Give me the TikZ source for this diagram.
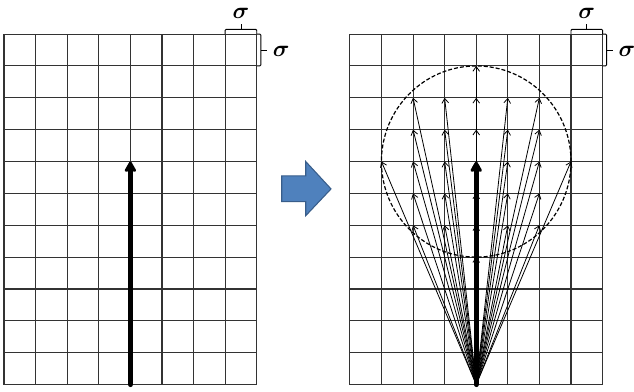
\documentclass[tikz,border=0pt]{standalone}
\usepackage{amsmath}
\usepackage{bm}
\usetikzlibrary{arrows, arrows.meta, positioning, calc, decorations.pathreplacing}
\definecolor{arrowblue}{RGB}{79,129,189}
\definecolor{arrowedge}{RGB}{56,93,138}

\begin{document}
\begin{tikzpicture}[
    x=23.7pt, y=23.9pt,
    gridline/.style={draw=black!80, line width=0.8pt},
    bracket/.style={draw, line width=0.7pt, rounded corners=0.8pt},
    sigmalabel/.style={font=\fontsize{16}{19}\selectfont, inner sep=0pt},
    bigarrow/.style={draw, line width=3.8pt, line cap=round, -{Stealth[length=9pt,width=10pt,inset=1pt,round]}},
    fanarrow/.style={draw, line width=0.6pt, -{Straight Barb[length=3.5pt,width=5pt]}},
    circleline/.style={draw, line width=0.9pt, dash pattern=on 3pt off 1.5pt}
]
\useasboundingbox (-0.127,-0.22) rectangle (19.94,12.07);

% the two grids with their sigma brackets
\foreach \g/\dx in {L/0, R/10.946}{
  \begin{scope}[xshift=\dx*23.7pt]
    \draw[gridline, step=1] (0,0) grid (8,11);
    \draw[bracket] (7,11) -- (7,11.15) -- (8,11.15) -- (8,11);
    \draw[bracket] (7.5,11.15) -- (7.5,11.32);
    \node[sigmalabel] (\g-sx) at (7.5,11.66) {$\boldsymbol{\sigma}$};
    \draw[bracket] (8,11) -- (8.13,11) -- (8.13,10) -- (8,10);
    \draw[bracket] (8.13,10.5) -- (8.33,10.5);
    \node[sigmalabel] (\g-sy) at (8.77,10.47) {$\boldsymbol{\sigma}$};
  \end{scope}
}

% left: single move
\coordinate (L0) at (4,0);
\coordinate (L1) at (4,7);
\draw[bigarrow] (L0) -- (L1);

% block arrow in between
\draw[fill=arrowblue, draw=arrowedge, line width=0.8pt]
    (8.79,5.74) -- (9.55,5.74) -- (9.55,5.30) -- (10.35,6.14)
    -- (9.55,7.0) -- (9.55,6.55) -- (8.79,6.55) -- cycle;

% right: all moves inside the circle
\coordinate (R0) at (14.946,0);
\coordinate (R1) at (14.946,7);
\draw[circleline] (R1) circle [radius=3];
\foreach \i in {1,...,7}
  \foreach \j in {4,...,10}{
    \pgfmathtruncatemacro{\dd}{(\i-4)*(\i-4)+(\j-7)*(\j-7)}
    \ifnum\dd<10
      \coordinate (p-\i-\j) at ($(R0)+(\i-4,\j)$);
      \draw[fanarrow] (R0) -- (p-\i-\j);
    \fi
  }
\draw[bigarrow] (R0) -- (R1);

\end{tikzpicture}
\end{document}
